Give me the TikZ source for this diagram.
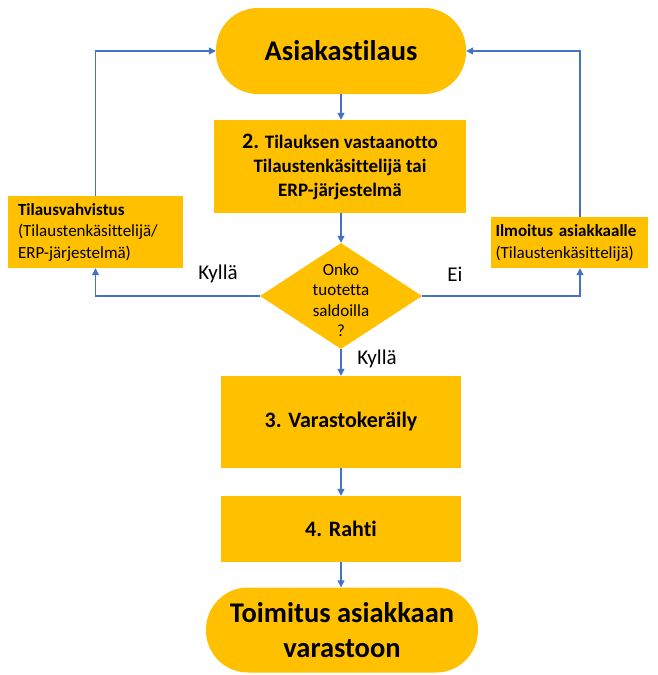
\documentclass[tikz,border=0pt]{standalone}
\usepackage{fontspec}
\setmainfont[Ligatures=NoCommon]{Carlito}
\usetikzlibrary{shapes.geometric,arrows.meta}
\definecolor{amber}{HTML}{FFC000}
\definecolor{linkblue}{HTML}{4472C4}
\tikzset{
  box/.style={fill=amber, draw=none, align=center, inner sep=2pt},
  pill/.style={fill=amber, draw=none, align=center, rounded corners=42pt},
  flow/.style={draw=linkblue, line width=1.2pt, -{Triangle[length=7pt,width=7pt]}},
  lbl/.style={font=\fontsize{21}{24}\selectfont, inner sep=0pt}
}
\begin{document}
\begin{tikzpicture}[x=1pt,y=-1pt]
\useasboundingbox (0,0) rectangle (657,675);

% start and end terminals
\node[pill, minimum width=250pt, minimum height=86pt, font=\bfseries\fontsize{28.5}{34}\selectfont]
  (order) at (341,51) {Asiakastilaus};
\node[pill, minimum width=272pt, minimum height=85pt, font=\bfseries\fontsize{28.5}{35}\selectfont]
  (deliver) at (342,630) {Toimitus asiakkaan\\varastoon};

% process steps
\node[box, minimum width=252pt, minimum height=93pt, font=\bfseries\fontsize{19}{24}\selectfont]
  (receive) at (340,166.5) {{\fontsize{22}{24}\selectfont 2.} Tilauksen vastaanotto\\Tilaustenkäsittelijä tai\\ERP-järjestelmä};
\node[box, minimum width=240pt, minimum height=92pt, font=\bfseries\fontsize{22}{26}\selectfont]
  (pick) at (341,422) {3. Varastokeräily};
\node[box, minimum width=240pt, minimum height=66pt, font=\bfseries\fontsize{22}{26}\selectfont]
  (freight) at (341,529) {4. Rahti};

% side notices
\node[box, align=left, text width=155pt, minimum width=175pt, minimum height=72pt, font=\fontsize{17}{21.5}\selectfont]
  (confirm) at (95.5,232) {\textbf{Tilausvahvistus}\\(Tilaustenkäsittelijä/\\ERP-järjestelmä)};
\node[box, align=left, text width=147pt, minimum width=157pt, minimum height=51pt, font=\fontsize{17}{22}\selectfont]
  (notify) at (569,242.5) {\textbf{Ilmoitus asiakkaalle}\\(Tilaustenkäsittelijä)};

% decision
\node[diamond, fill=amber, draw=none, inner sep=0pt, minimum width=162pt, minimum height=106pt]
  (stock) at (341,296) {};
\node[align=center, font=\fontsize{17}{20.5}\selectfont] (stocktext) at (341,300) {Onko\\tuotetta\\saldoilla\\?};

% main flow
\draw[flow] (order.south) -- (receive.north -| order.south);
\draw[flow] (receive.south -| stock.north) -- (stock.north);
\draw[flow] (stock.south) -- (pick.north -| stock.south);
\draw[flow] (pick.south -| stock.south) -- (freight.north -| stock.south);
\draw[flow] (freight.south -| stock.south) -- (deliver.north -| stock.south);

% branches from the decision
\draw[flow] (stock.west) -| (confirm.south);
\draw[flow] (stock.east) -| ([xshift=11pt]notify.south);
\draw[flow] (confirm.north) |- (order.west);
\draw[flow] ([xshift=11pt]notify.north) |- (order.east);

% branch labels
\node[lbl] (yesleft) at (218,274) {Kyllä};
\node[lbl] (noright) at (455,274) {Ei};
\node[lbl] (yesdown) at (377,359) {Kyllä};
\end{tikzpicture}
\end{document}
